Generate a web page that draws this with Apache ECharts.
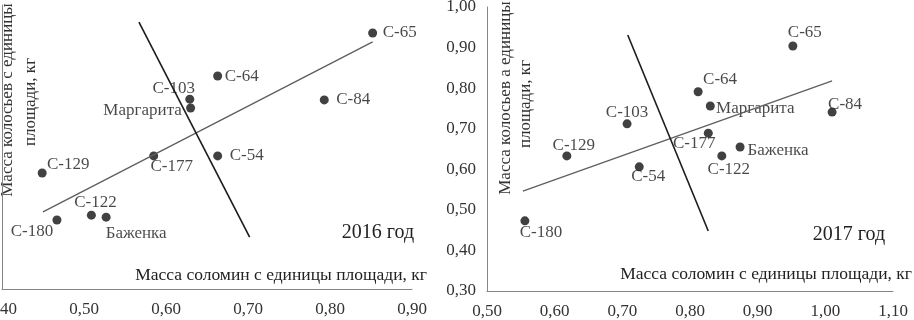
<!DOCTYPE html>
<html>
<head>
<meta charset="utf-8">
<script src="https://cdn.jsdelivr.net/npm/echarts@6/dist/echarts.min.js"></script>
<style>
html,body{margin:0;padding:0;background:#fff;}
#chart{width:914px;height:320px;}
</style>
</head>
<body>
<div id="chart"></div>
<script>
// ---- data ----
var names2016 = ['С-65','С-64','С-84','С-103','Маргарита','С-54','С-177','С-129','С-180','С-122','Баженка'];
var straw2016 = [0.852,0.663,0.793,0.629,0.630,0.663,0.585,0.449,0.467,0.509,0.527];
var ears2016  = [0.931,0.825,0.766,0.768,0.746,0.628,0.628,0.586,0.470,0.482,0.477];
var trendX2016 = [0.450,0.852];
var trendY2016 = [0.490,0.909];
var crossX2016 = [0.567,0.702];
var crossY2016 = [0.958,0.428];

var names2017 = ['С-65','С-64','Маргарита','С-84','С-103','С-177','Баженка','С-122','С-129','С-54','С-180'];
var straw2017 = [0.952,0.812,0.830,1.010,0.707,0.827,0.874,0.847,0.618,0.725,0.556];
var ears2017  = [0.904,0.791,0.756,0.741,0.712,0.689,0.655,0.633,0.633,0.606,0.473];
var trendX2017 = [0.553,1.010];
var trendY2017 = [0.546,0.818];
var crossX2017 = [0.708,0.827];
var crossY2017 = [0.931,0.448];

var xTicks2016 = [0.40,0.50,0.60,0.70,0.80,0.90];
var xTicks2017 = [0.50,0.60,0.70,0.80,0.90,1.00,1.10];
var yTicks = [0.30,0.40,0.50,0.60,0.70,0.80,0.90,1.00];

var xTitle = 'Масса соломин с единицы площади, кг';
var yTitle2016 = ['Масса колосьев с единицы','площади, кг'];
var yTitle2017 = ['Масса колосьев а единицы','площади, кг'];
var yearLabels = ['2016 год','2017 год'];

// ---- label placement (layout, not data) ----
var offsets2016 = {
  'С-65':[27,0],'С-64':[24,1],'С-84':[29,0],'С-103':[-16,-11],'Маргарита':[-48,2],
  'С-54':[29,0],'С-177':[18,11],'С-129':[26,-8],'С-180':[-25,12],'С-122':[4,-13],'Баженка':[30,16]
};
var offsets2017 = {
  'С-65':[12,-13],'С-64':[22,-12],'Маргарита':[45,3],'С-84':[13,-8],'С-103':[0,-11],
  'С-129':[7,-10],'С-177':[-14,10],'Баженка':[38,4],'С-122':[7,14],'С-54':[9,10],'С-180':[16,12]
};

var serif = "'Liberation Serif', 'Times New Roman', serif";
function fmt(v){ return v.toFixed(2).replace('.',','); }
function pairs(xs,ys){ return xs.map(function(x,i){return [x,ys[i]];}); }
function pts(names,xs,ys,offs){
  return names.map(function(n,i){
    return {name:n, value:[xs[i],ys[i]], label:{offset:offs[n]}};
  });
}

var chart = echarts.init(document.getElementById('chart'));

function xAxis(gi,min,max){
  return {gridIndex:gi,type:'value',min:min,max:max,interval:0.1,
    axisLine:{show:true,onZero:false,lineStyle:{color:'#858585',width:1}},
    axisTick:{show:false},splitLine:{show:false},
    axisLabel:{margin:12,color:'#333',fontFamily:serif,fontSize:17,formatter:fmt,hideOverlap:false}};
}
function yAxis(gi){
  return {gridIndex:gi,type:'value',min:0.3,max:1.0,interval:0.1,
    axisLine:{show:true,onZero:false,lineStyle:{color:'#858585',width:1}},
    axisTick:{show:false},splitLine:{show:false},
    axisLabel:{margin:11,color:'#333',fontFamily:serif,fontSize:17,formatter:fmt,hideOverlap:false}};
}
var pointLabel = {show:true,position:'inside',align:'center',verticalAlign:'middle',
  formatter:'{b}',color:'#1a1a1a',fontFamily:serif,fontSize:17};

var option = {
  backgroundColor:'#fff',
  animation:false,
  grid:[
    {left:2,top:5,width:410,height:284,containLabel:false,outerBoundsMode:'none'},
    {left:487,top:7,width:406,height:284,containLabel:false,outerBoundsMode:'none'}
  ],
  xAxis:[xAxis(0,0.4,0.9),xAxis(1,0.5,1.1)],
  yAxis:[yAxis(0),yAxis(1)],
  series:[
    {type:'line',xAxisIndex:0,yAxisIndex:0,data:pairs(trendX2016,trendY2016),symbol:'none',
      lineStyle:{color:'#5e5e5e',width:1.3},silent:true},
    {type:'line',xAxisIndex:0,yAxisIndex:0,data:pairs(crossX2016,crossY2016),symbol:'none',
      lineStyle:{color:'#1c1c1c',width:1.6},silent:true},
    {type:'scatter',xAxisIndex:0,yAxisIndex:0,data:pts(names2016,straw2016,ears2016,offsets2016),
      symbolSize:9,itemStyle:{color:'#111'},label:pointLabel},
    {type:'line',xAxisIndex:1,yAxisIndex:1,data:pairs(trendX2017,trendY2017),symbol:'none',
      lineStyle:{color:'#5e5e5e',width:1.3},silent:true},
    {type:'line',xAxisIndex:1,yAxisIndex:1,data:pairs(crossX2017,crossY2017),symbol:'none',
      lineStyle:{color:'#1c1c1c',width:1.6},silent:true},
    {type:'scatter',xAxisIndex:1,yAxisIndex:1,data:pts(names2017,straw2017,ears2017,offsets2017),
      symbolSize:9,itemStyle:{color:'#111'},label:pointLabel}
  ],
  graphic:[
    {type:'text',x:427,y:275,style:{text:xTitle,fill:'#222',font:'17.5px '+serif,textAlign:'right',textVerticalAlign:'middle'}},
    {type:'text',x:912,y:274,style:{text:xTitle,fill:'#222',font:'17.5px '+serif,textAlign:'right',textVerticalAlign:'middle'}},
    {type:'text',x:378,y:233,style:{text:yearLabels[0],fill:'#222',font:'20px '+serif,textAlign:'center',textVerticalAlign:'middle'}},
    {type:'text',x:849,y:235,style:{text:yearLabels[1],fill:'#222',font:'20px '+serif,textAlign:'center',textVerticalAlign:'middle'}},
    {type:'text',x:8,y:100,rotation:Math.PI/2,style:{text:yTitle2016[0],fill:'#333',font:'17px '+serif,textAlign:'center',textVerticalAlign:'middle'}},
    {type:'text',x:31,y:102,rotation:Math.PI/2,style:{text:yTitle2016[1],fill:'#333',font:'17px '+serif,textAlign:'center',textVerticalAlign:'middle'}},
    {type:'text',x:506,y:98,rotation:Math.PI/2,style:{text:yTitle2017[0],fill:'#333',font:'17px '+serif,textAlign:'center',textVerticalAlign:'middle'}},
    {type:'text',x:526,y:104,rotation:Math.PI/2,style:{text:yTitle2017[1],fill:'#333',font:'17px '+serif,textAlign:'center',textVerticalAlign:'middle'}}
  ]
};
chart.setOption(option);
</script>
</body>
</html>
